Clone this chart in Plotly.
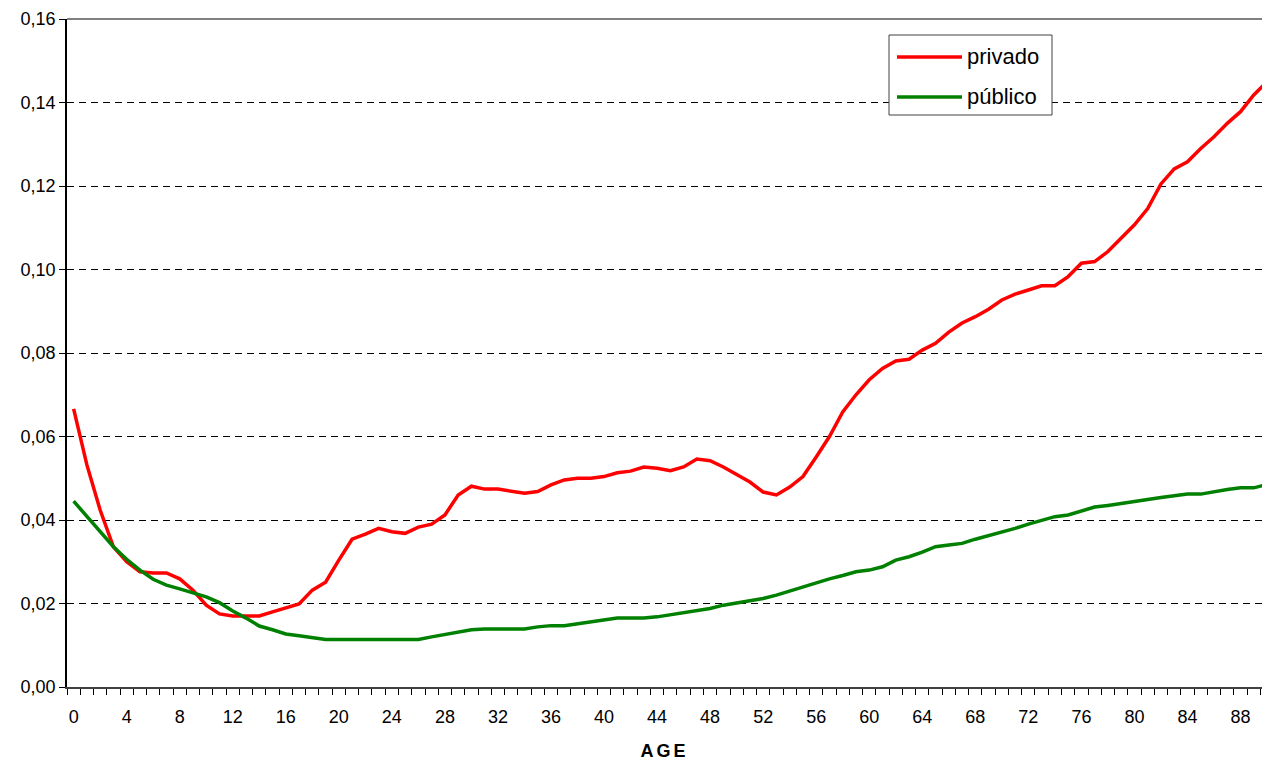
import plotly.graph_objects as go

ages = list(range(0, 91))

privado = [
    0.0666, 0.0532, 0.0424, 0.0336, 0.0300, 0.0276, 0.0273, 0.0273, 0.0259, 0.0232,
    0.0196, 0.0175, 0.0170, 0.0170, 0.0170, 0.0180, 0.0189, 0.0199, 0.0232, 0.0251,
    0.0304, 0.0354, 0.0366, 0.0380, 0.0372, 0.0368, 0.0383, 0.0390, 0.0412, 0.0460,
    0.0481, 0.0474, 0.0474, 0.0469, 0.0464, 0.0468, 0.0484, 0.0496, 0.0500, 0.0500,
    0.0504, 0.0513, 0.0517, 0.0527, 0.0524, 0.0518, 0.0527, 0.0546, 0.0542, 0.0527,
    0.0510, 0.0491, 0.0467, 0.0460, 0.0479, 0.0504, 0.0551, 0.0600, 0.0659, 0.0700,
    0.0736, 0.0763, 0.0781, 0.0785, 0.0807, 0.0823, 0.0850, 0.0872, 0.0887, 0.0905,
    0.0927, 0.0941, 0.0951, 0.0961, 0.0961, 0.0983, 0.1015, 0.1019, 0.1043, 0.1075,
    0.1107, 0.1146, 0.1205, 0.1241, 0.1258, 0.1290, 0.1318, 0.1350, 0.1378, 0.1418,
    0.1450,
]

publico = [
    0.0445, 0.0408, 0.0370, 0.0336, 0.0306, 0.0280, 0.0258, 0.0244, 0.0235, 0.0225,
    0.0216, 0.0202, 0.0182, 0.0165, 0.0146, 0.0137, 0.0127, 0.0123, 0.0118, 0.0114,
    0.0114, 0.0114, 0.0114, 0.0114, 0.0114, 0.0114, 0.0114, 0.0120, 0.0126, 0.0132,
    0.0137, 0.0139, 0.0139, 0.0139, 0.0139, 0.0144, 0.0147, 0.0147, 0.0152, 0.0156,
    0.0160, 0.0165, 0.0165, 0.0165, 0.0168, 0.0173, 0.0179, 0.0183, 0.0188, 0.0196,
    0.0201, 0.0206, 0.0212, 0.0220, 0.0230, 0.0240, 0.0250, 0.0259, 0.0267, 0.0276,
    0.0280, 0.0288, 0.0304, 0.0312, 0.0323, 0.0336, 0.0340, 0.0344, 0.0354, 0.0362,
    0.0371, 0.0380, 0.0390, 0.0400, 0.0408, 0.0412, 0.0422, 0.0431, 0.0435, 0.0439,
    0.0444, 0.0449, 0.0454, 0.0458, 0.0462, 0.0462, 0.0468, 0.0473, 0.0477, 0.0477,
    0.0485,
]

x_tick_vals = list(range(0, 89, 4))
x_tick_text = [str(v) for v in x_tick_vals]
y_tick_vals = [0.00, 0.02, 0.04, 0.06, 0.08, 0.10, 0.12, 0.14, 0.16]
y_tick_text = ["0,00", "0,02", "0,04", "0,06", "0,08", "0,10", "0,12", "0,14", "0,16"]

series_names = ["privado", "público"]
series_colors = ["#FF0000", "#008000"]

FONT = "Liberation Sans, Arial, sans-serif"

W, H = 1262, 762
ML, MT, MB, MR = 67, 19, 75, 0
PW, PH = W - ML - MR, H - MT - MB


def px_to_paper_x(px):
    return (px - ML) / PW


def px_to_paper_y(py):
    return (H - MB - py) / PH


fig = go.Figure()
fig.add_trace(go.Scatter(x=ages, y=privado, mode="lines", name=series_names[0],
                         line=dict(color=series_colors[0], width=3.5), showlegend=False))
fig.add_trace(go.Scatter(x=ages, y=publico, mode="lines", name=series_names[1],
                         line=dict(color=series_colors[1], width=3.5), showlegend=False))

fig.update_layout(
    width=W, height=H,
    margin=dict(l=ML, r=MR, t=MT, b=MB),
    paper_bgcolor="white", plot_bgcolor="white",
    font=dict(family=FONT, size=18, color="black"),
    showlegend=False,
)

fig.update_xaxes(
    range=[-0.5, 89.62],
    tickmode="array", tickvals=x_tick_vals, ticktext=x_tick_text,
    ticks="", showgrid=False, zeroline=False,
    showline=True, linecolor="#404040", linewidth=2,
    ticklabelstandoff=12,
    tickfont=dict(family=FONT, size=18),
    minor=dict(ticks="outside", ticklen=6, tickcolor="black", tickwidth=1,
               tick0=-0.5, dtick=1, showgrid=False),
    title=dict(text='<span style="letter-spacing:3px"><b>AGE</b></span>',
               font=dict(family=FONT, size=18), standoff=19),
)

fig.update_yaxes(
    range=[0, 0.16],
    tickmode="array", tickvals=y_tick_vals, ticktext=y_tick_text,
    ticks="outside", ticklen=6, tickcolor="black", tickwidth=1,
    showgrid=True, gridcolor="black", gridwidth=1, griddash="7px,5px",
    zeroline=False,
    showline=True, linecolor="black", linewidth=1.5,
    tickfont=dict(family=FONT, size=18),
)

# top border of plot area
fig.add_shape(type="line", xref="paper", yref="paper", x0=0, x1=1, y0=1, y1=1,
              line=dict(color="#808080", width=2), layer="above")

# legend box (drawn manually to match the long line samples)
fig.add_shape(type="rect", xref="paper", yref="paper",
              x0=px_to_paper_x(889), x1=px_to_paper_x(1052),
              y0=px_to_paper_y(115), y1=px_to_paper_y(35),
              line=dict(color="#404040", width=1), fillcolor="white", layer="above")
for nm, col, py in zip(series_names, series_colors, [57, 97]):
    yy = px_to_paper_y(py)
    fig.add_shape(type="line", xref="paper", yref="paper",
                  x0=px_to_paper_x(897), x1=px_to_paper_x(962), y0=yy, y1=yy,
                  line=dict(color=col, width=3.5), layer="above")
    fig.add_annotation(xref="paper", yref="paper", x=px_to_paper_x(965), y=yy,
                       text=nm, showarrow=False, xanchor="left", yanchor="middle",
                       font=dict(family=FONT, size=22, color="black"))

fig.write_html(
    "out.html",
    config={"displayModeBar": False},
    post_script="document.body.style.margin='0';document.body.style.overflow='hidden';",
)
